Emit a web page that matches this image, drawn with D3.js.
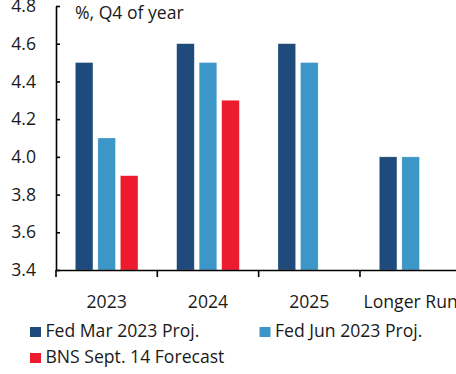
<!DOCTYPE html>
<html>
<head>
<meta charset="utf-8">
<script src="https://cdn.jsdelivr.net/npm/d3@7"></script>
<style>
  html, body { margin: 0; padding: 0; background: #fff; overflow: hidden; }
  svg { display: block; font-family: "Open Sans", sans-serif; }
</style>
</head>
<body>
<svg id="chart" width="456" height="374"></svg>
<script>
const categories = ["2023", "2024", "2025", "Longer Run"];
const seriesNames = ["Fed Mar 2023 Proj.", "Fed Jun 2023 Proj.", "BNS Sept. 14 Forecast"];
const fedMar = [4.5, 4.6, 4.6, 4.0];
const fedJun = [4.1, 4.5, 4.5, 4.0];
const bnsSep = [3.9, 4.3, null, null];
const yTicks = [3.4, 3.6, 3.8, 4.0, 4.2, 4.4, 4.6, 4.8];
const colors = ["#1f4a7c", "#3d96c8", "#ed1b2e"];
const unitLabel = "%, Q4 of year";

const seriesValues = [fedMar, fedJun, bnsSep];

(function () {
const svg = d3.select("#chart");
const mLeft = 56, mRight = 461.3, mTop = 6, mBottom = 270;
const fs = 17.6, txt = "#1a1a1a";

const x0 = d3.scaleBand().domain(categories).range([mLeft, mRight]).padding(0);
const x1 = d3.scaleBand().domain(seriesNames).range([0, x0.bandwidth()])
  .paddingInner(0.22).paddingOuter(0.86);
const y = d3.scaleLinear().domain([3.4, 4.8]).range([mBottom, mTop]);

// bars
const groups = svg.append("g").selectAll("g")
  .data(categories).join("g")
  .attr("transform", d => `translate(${x0(d)},0)`);

groups.selectAll("rect")
  .data((c, i) => seriesNames.map((s, j) => ({ s, j, v: seriesValues[j][i] })).filter(d => d.v != null))
  .join("rect")
  .attr("x", d => x1(d.s))
  .attr("width", x1.bandwidth())
  .attr("y", d => y(d.v))
  .attr("height", d => mBottom - y(d.v))
  .attr("fill", d => colors[d.j])
  .attr("stroke", "#fff")
  .attr("stroke-opacity", 0.4)
  .attr("stroke-width", 0.6);

// y axis
const yAxis = d3.axisLeft(y).tickValues(yTicks).tickFormat(d3.format(".1f"))
  .tickSizeInner(-4).tickSizeOuter(0).tickPadding(20);
const gy = svg.append("g").attr("transform", `translate(${mLeft},0)`).call(yAxis);
gy.select(".domain").attr("stroke", "#000").attr("stroke-width", 1.6);
gy.selectAll(".tick line").attr("stroke", "#000").attr("stroke-width", 1.6);
gy.selectAll(".tick text").attr("font-size", fs).attr("fill", txt)
  .attr("font-family", "Open Sans, sans-serif");

// x axis
const xAxis = d3.axisBottom(x0).tickSize(0).tickPadding(26);
const gx = svg.append("g").attr("transform", `translate(0,${mBottom})`).call(xAxis);
gx.select(".domain").attr("stroke", "#000").attr("stroke-width", 1.6);
gx.selectAll(".tick text").attr("font-size", fs).attr("fill", txt)
  .attr("font-family", "Open Sans, sans-serif");
gx.selectAll(".sep").data(categories).join("line")
  .attr("class", "sep")
  .attr("x1", d => x0(d)).attr("x2", d => x0(d))
  .attr("y1", 0).attr("y2", 7)
  .attr("stroke", "#000").attr("stroke-width", 1.6);

// unit label
svg.append("text").attr("x", 75).attr("y", 19)
  .attr("font-size", fs).attr("fill", txt).text(unitLabel);

// legend
const legendPos = [[30, 327], [259.5, 327], [30, 353]];
const lg = svg.append("g").selectAll("g").data(seriesNames).join("g")
  .attr("transform", (d, i) => `translate(${legendPos[i][0]},${legendPos[i][1]})`);
lg.append("rect").attr("width", 11).attr("height", 10).attr("fill", (d, i) => colors[i]);
lg.append("text").attr("x", 15.5).attr("y", 10).attr("font-size", fs).attr("fill", txt).text(d => d);
})();
</script>
</body>
</html>
